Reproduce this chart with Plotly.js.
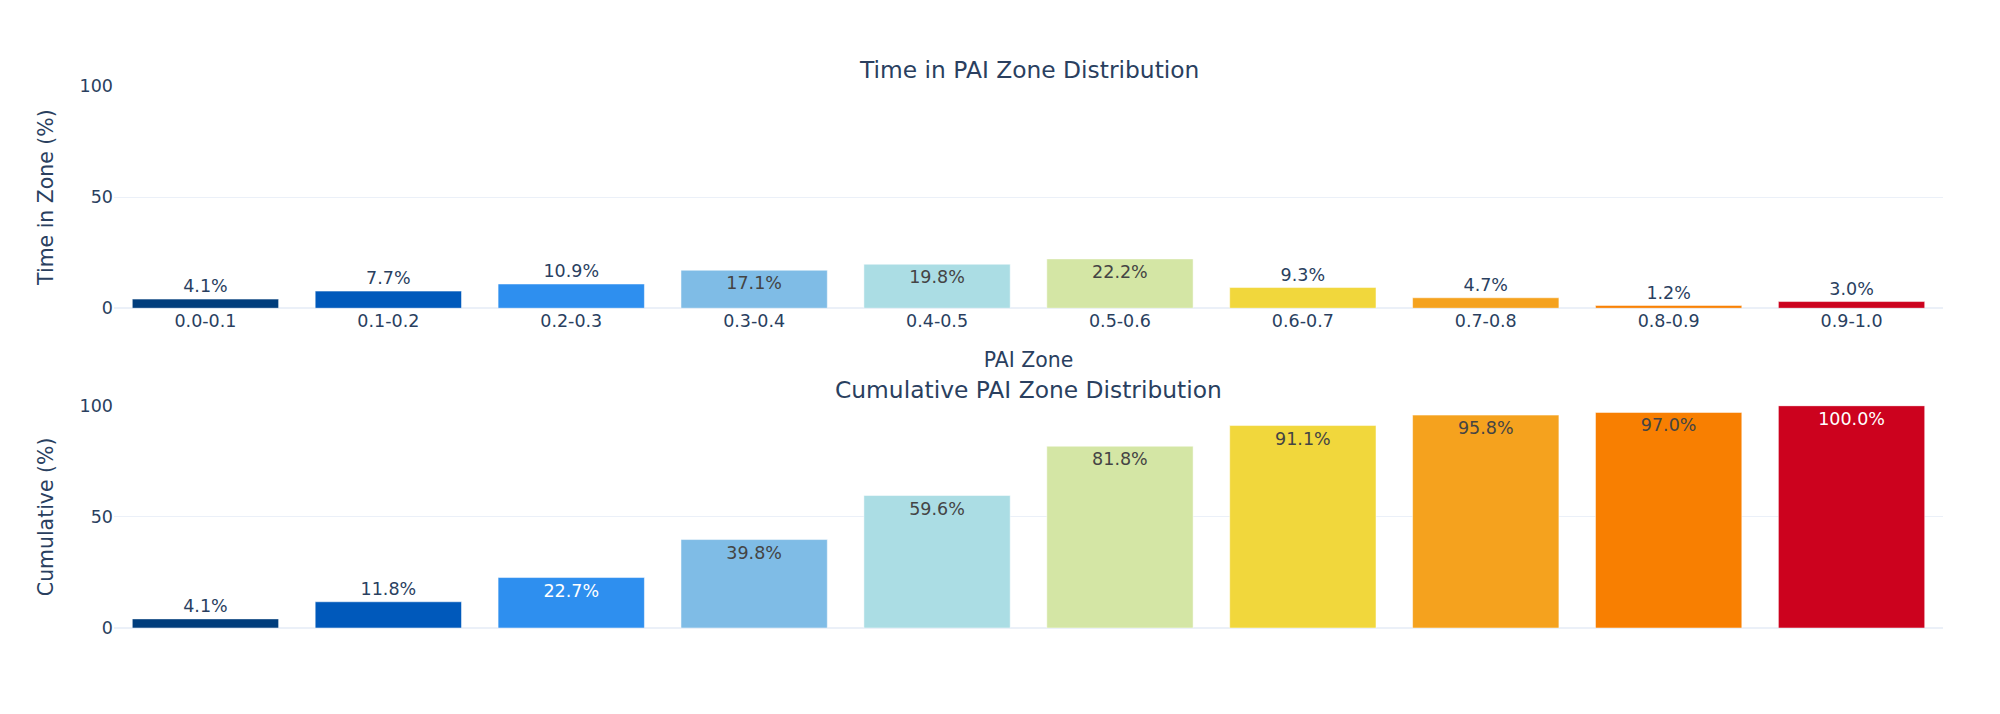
<!DOCTYPE html>
<html>
<head>
<meta charset="utf-8">
<script src="https://cdn.plot.ly/plotly-3.0.1.min.js"></script>
<style>
  html, body { margin: 0; padding: 0; background: #fff; }
  #chart { width: 2000px; height: 714px; }
</style>
</head>
<body>
<div id="chart"></div>
<script>
// PAI zone buckets and the share of time spent in each
const zones      = ['0.0-0.1', '0.1-0.2', '0.2-0.3', '0.3-0.4', '0.4-0.5',
                    '0.5-0.6', '0.6-0.7', '0.7-0.8', '0.8-0.9', '0.9-1.0'];
const timeInZone = [4.1, 7.7, 10.9, 17.1, 19.8, 22.2, 9.3, 4.7, 1.2, 3.0];
const cumulative = [4.1, 11.8, 22.7, 39.8, 59.6, 81.8, 91.1, 95.8, 97.0, 100.0];
const zoneColors = ['#003d7c', '#0059bb', '#2e8fef', '#7fbce6', '#abdde4',
                    '#d4e6a5', '#f1d73c', '#f5a21e', '#f87f01', '#cc021e'];

const S = 1.46;             // everything was laid out small and exported larger
const FONT = 'DejaVu Sans, Verdana, sans-serif';
const INK  = '#2a3f5f';
const GRID = '#EBF0F8';

// DejaVu is a touch shorter than the original face, so 'auto' would squeeze
// the 11.8% label inside its bar — pin the short cumulative bars to outside
const cumTextPos = ['outside', 'outside', 'auto', 'auto', 'auto',
                    'auto', 'auto', 'auto', 'auto', 'auto'];

function pct(v) { return v.toFixed(1) + '%'; }

function barTrace(values, xa, ya, textpos) {
  return {
    type: 'bar',
    x: zones,
    y: values,
    xaxis: xa,
    yaxis: ya,
    text: values.map(pct),
    textposition: textpos || 'auto',
    cliponaxis: false,
    marker: { color: zoneColors, line: { color: '#ffffff', width: 0.5 } },
    showlegend: false,
    hoverinfo: 'x+y',
  };
}

// shared y-axis look — both panels run 0..100
function yAxis(domain, title, anchor) {
  return {
    domain: domain,
    anchor: anchor,
    range: [0, 100],
    tickvals: [0, 50, 100],
    showgrid: true,
    gridcolor: GRID,
    gridwidth: 1,
    zeroline: true,
    zerolinecolor: GRID,
    zerolinewidth: 2,
    ticks: '',
    automargin: true,
    tickfont: { size: 12 * S, color: INK },
    title: { text: title, standoff: 20, font: { size: 14 * S, color: INK } },
  };
}

function xAxis(anchor, showLabels) {
  return {
    domain: [0, 1],
    anchor: anchor,
    type: 'category',
    showgrid: false,
    zeroline: false,
    ticks: '',
    automargin: true,
    showticklabels: showLabels,
    tickfont: { size: 12 * S, color: INK },
  };
}

const SPACING = 0.18;
const topDomain = [(1 + SPACING) / 2, 1];
const botDomain = [0, (1 - SPACING) / 2];

const xTop = xAxis('y', true);
xTop.title = { text: 'PAI Zone', standoff: 22, font: { size: 14 * S, color: INK } };

const layout = {
  width: 2000,
  height: 714,
  margin: { l: 114, r: 57, t: 86, b: 86, pad: 0 },
  paper_bgcolor: '#ffffff',
  plot_bgcolor: '#ffffff',
  font: { family: FONT, size: 12 * S, color: INK },
  bargap: 0.2,
  xaxis: xTop,
  yaxis: yAxis(topDomain, 'Time in Zone (%)', 'x'),
  xaxis2: xAxis('y2', false),
  yaxis2: yAxis(botDomain, 'Cumulative (%)', 'x2'),
  annotations: [
    { text: 'Time in PAI Zone Distribution', x: 0.5, y: topDomain[1],
      xref: 'paper', yref: 'paper', xanchor: 'center', yanchor: 'bottom',
      showarrow: false, font: { size: 16 * S, color: INK } },
    { text: 'Cumulative PAI Zone Distribution', x: 0.5, y: botDomain[1],
      xref: 'paper', yref: 'paper', xanchor: 'center', yanchor: 'bottom',
      showarrow: false, font: { size: 16 * S, color: INK } },
  ],
};

Plotly.newPlot('chart',
  [barTrace(timeInZone, 'x', 'y'), barTrace(cumulative, 'x2', 'y2', cumTextPos)],
  layout,
  { displayModeBar: false, responsive: false, staticPlot: true });
</script>
</body>
</html>
